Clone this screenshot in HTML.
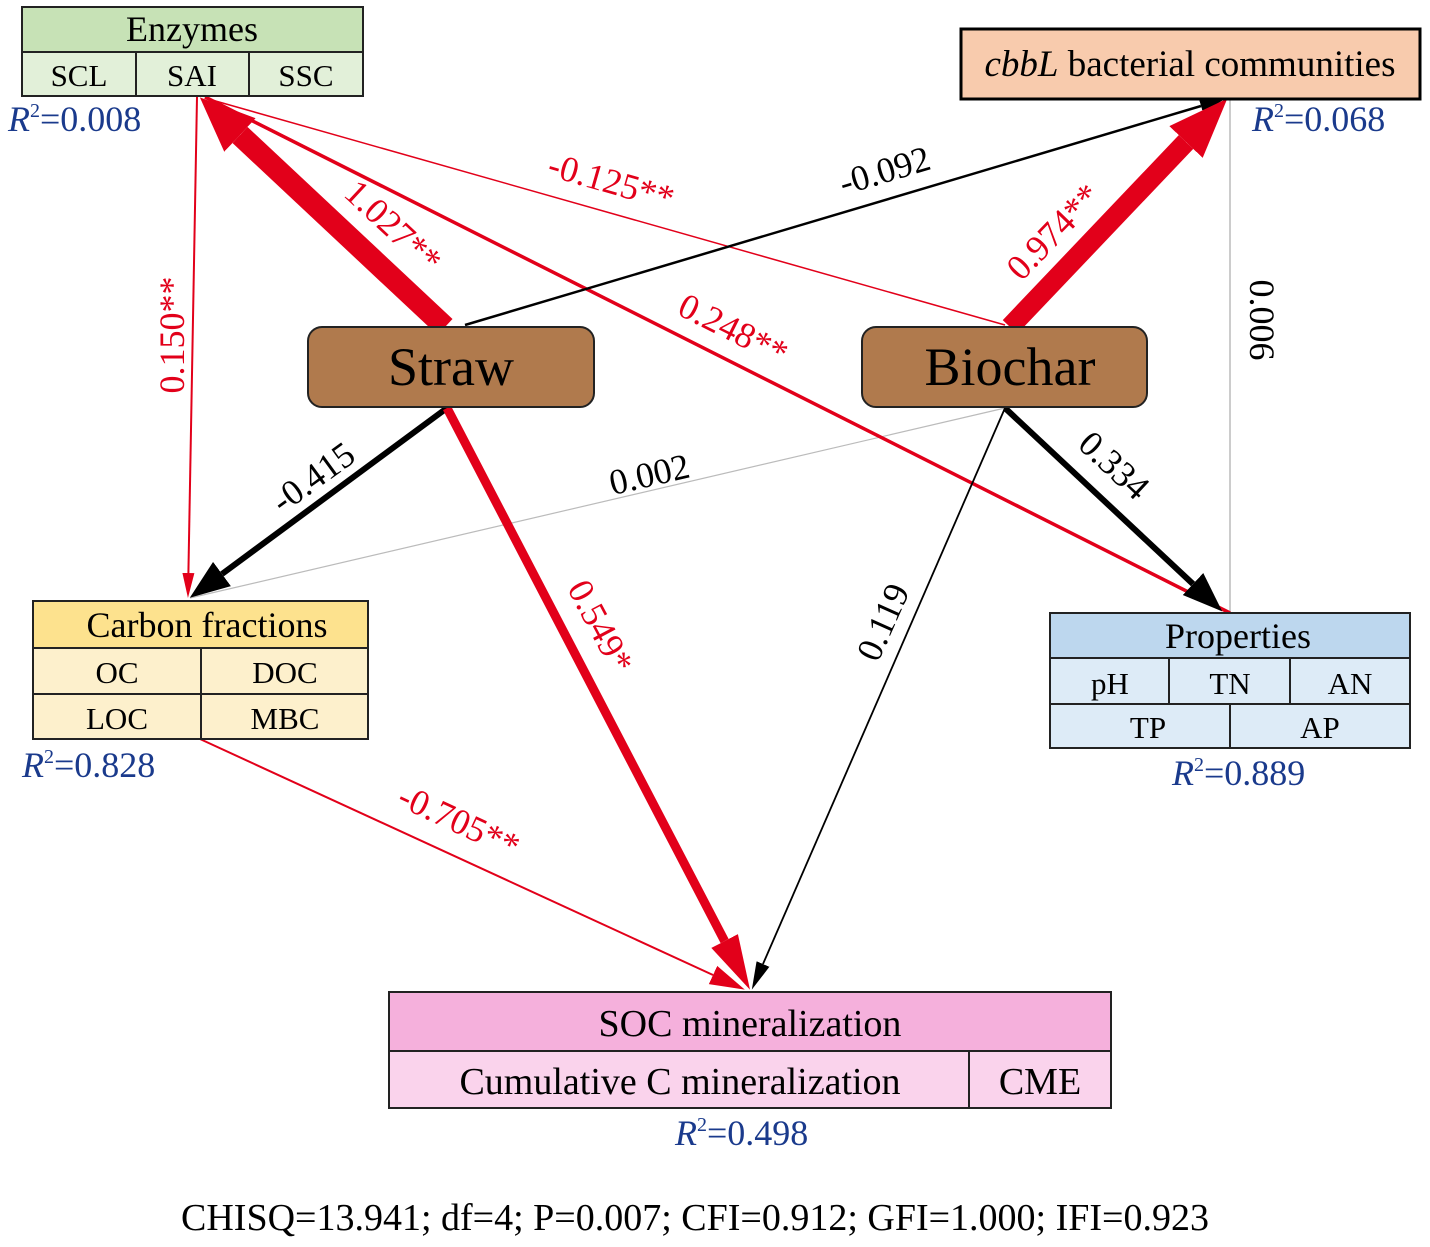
<!DOCTYPE html>
<html><head><meta charset="utf-8"><style>html,body{margin:0;padding:0;background:#fff}svg{display:block}</style></head><body>
<svg width="1430" height="1247" viewBox="0 0 1430 1247" xmlns="http://www.w3.org/2000/svg" font-family="Liberation Serif, serif">
<defs>
<marker id="a1" markerUnits="userSpaceOnUse" markerWidth="60" markerHeight="60" refX="0" refY="30" orient="auto"><path d="M0,7 L55,30 L0,53z" fill="#e2001a"/></marker>
<marker id="a2" markerUnits="userSpaceOnUse" markerWidth="64" markerHeight="60" refX="0" refY="30" orient="auto"><path d="M0,7 L60,30 L0,53z" fill="#e2001a"/></marker>
<marker id="a3" markerUnits="userSpaceOnUse" markerWidth="30" markerHeight="20" refX="0" refY="10" orient="auto"><path d="M0,3 L25,10 L0,17z" fill="#000"/></marker>
<marker id="a6" markerUnits="userSpaceOnUse" markerWidth="30" markerHeight="20" refX="0" refY="10" orient="auto"><path d="M0,4 L25,10 L0,16z" fill="#e2001a"/></marker>
<marker id="a7" markerUnits="userSpaceOnUse" markerWidth="44" markerHeight="40" refX="0" refY="20" orient="auto"><path d="M0,5 L40,20 L0,35z" fill="#000"/></marker>
<marker id="a9" markerUnits="userSpaceOnUse" markerWidth="60" markerHeight="40" refX="0" refY="20" orient="auto"><path d="M0,5 L55,20 L0,35z" fill="#e2001a"/></marker>
<marker id="a10" markerUnits="userSpaceOnUse" markerWidth="30" markerHeight="20" refX="0" refY="10" orient="auto"><path d="M0,3 L28,10 L0,17z" fill="#000"/></marker>
<marker id="a12" markerUnits="userSpaceOnUse" markerWidth="40" markerHeight="30" refX="0" refY="15" orient="auto"><path d="M0,5 L35,15 L0,25z" fill="#e2001a"/></marker>
</defs>

<!-- connectors -->
<line x1="1230" y1="99" x2="1230" y2="613" stroke="#bbb" stroke-width="1.5"/>
<line x1="1005" y1="408" x2="190" y2="598" stroke="#bbb" stroke-width="1.2"/>
<line x1="1005" y1="325" x2="212" y2="100" stroke="#e2001a" stroke-width="1.5"/>
<line x1="1230" y1="613" x2="205" y2="97" stroke="#e2001a" stroke-width="3.5"/>
<line x1="465" y1="325" x2="1201" y2="106" stroke="#000" stroke-width="2.5" marker-end="url(#a3)"/>
<line x1="197" y1="97" x2="188.4" y2="573" stroke="#e2001a" stroke-width="2" marker-end="url(#a6)"/>
<line x1="447" y1="408" x2="222" y2="574" stroke="#000" stroke-width="6" marker-end="url(#a7)"/>
<line x1="1005" y1="408" x2="1193" y2="584" stroke="#000" stroke-width="6" marker-end="url(#a7)"/>
<line x1="447" y1="408" x2="724.6" y2="941" stroke="#e2001a" stroke-width="9" marker-end="url(#a9)"/>
<line x1="1005" y1="408" x2="763" y2="964" stroke="#000" stroke-width="1.8" marker-end="url(#a10)"/>
<line x1="200" y1="739" x2="713" y2="975" stroke="#e2001a" stroke-width="2" marker-end="url(#a12)"/>
<line x1="445" y1="327" x2="240" y2="135" stroke="#e2001a" stroke-width="22" marker-end="url(#a1)"/>
<line x1="1010" y1="327" x2="1186" y2="142" stroke="#e2001a" stroke-width="20" marker-end="url(#a2)"/>

<!-- Enzymes -->
<g stroke="#222" stroke-width="2">
<rect x="22" y="7" width="341" height="45" fill="#c7e2b6"/>
<rect x="22" y="52" width="341" height="44" fill="#e2f0d9"/>
<line x1="136" y1="52" x2="136" y2="96"/><line x1="249" y1="52" x2="249" y2="96"/>
</g>
<g font-size="31" text-anchor="middle" fill="#000">
<text x="192" y="41" font-size="36">Enzymes</text>
<text x="79" y="86">SCL</text><text x="192" y="86">SAI</text><text x="306" y="86">SSC</text>
</g>

<!-- cbbL -->
<rect x="961" y="29" width="459" height="70" fill="#f8cbad" stroke="#000" stroke-width="3"/>
<text x="1190" y="76" font-size="37" text-anchor="middle"><tspan font-style="italic">cbbL</tspan> bacterial communities</text>

<!-- Straw / Biochar -->
<rect x="308" y="327" width="286" height="80" rx="14" fill="#b07a4d" stroke="#222" stroke-width="2"/>
<text x="451" y="385" font-size="54" text-anchor="middle">Straw</text>
<rect x="862" y="327" width="285" height="80" rx="14" fill="#b07a4d" stroke="#222" stroke-width="2"/>
<text x="1010" y="385" font-size="54" text-anchor="middle">Biochar</text>

<!-- Carbon fractions -->
<g stroke="#222" stroke-width="2">
<rect x="33" y="601" width="335" height="47" fill="#fde28e"/>
<rect x="33" y="648" width="335" height="91" fill="#fdf0cc"/>
<line x1="33" y1="694" x2="368" y2="694"/><line x1="201" y1="648" x2="201" y2="739"/>
</g>
<g font-size="31" text-anchor="middle">
<text x="207" y="637" font-size="36">Carbon fractions</text>
<text x="117" y="683">OC</text><text x="285" y="683">DOC</text>
<text x="117" y="729">LOC</text><text x="285" y="729">MBC</text>
</g>

<!-- Properties -->
<g stroke="#222" stroke-width="2">
<rect x="1050" y="613" width="360" height="45" fill="#bdd7ee"/>
<rect x="1050" y="658" width="360" height="90" fill="#ddebf7"/>
<line x1="1050" y1="704" x2="1410" y2="704"/>
<line x1="1169" y1="658" x2="1169" y2="704"/><line x1="1290" y1="658" x2="1290" y2="704"/>
<line x1="1230" y1="704" x2="1230" y2="748"/>
</g>
<g font-size="31" text-anchor="middle">
<text x="1238" y="648" font-size="36">Properties</text>
<text x="1110" y="694">pH</text><text x="1230" y="694">TN</text><text x="1350" y="694">AN</text>
<text x="1148" y="738">TP</text><text x="1320" y="738">AP</text>
</g>

<!-- SOC -->
<g stroke="#222" stroke-width="2">
<rect x="389" y="992" width="722" height="59" fill="#f5b0dc"/>
<rect x="389" y="1051" width="722" height="57" fill="#fad3ec"/>
<line x1="969" y1="1051" x2="969" y2="1108"/>
</g>
<g font-size="38" text-anchor="middle">
<text x="750" y="1036">SOC mineralization</text>
<text x="680" y="1094">Cumulative C mineralization</text>
<text x="1040" y="1094">CME</text>
</g>

<!-- R2 -->
<g font-size="36" fill="#1a3a8c">
<text x="8" y="131"><tspan font-style="italic">R</tspan><tspan font-size="20" dy="-14">2</tspan><tspan dy="14">=0.008</tspan></text>
<text x="1252" y="131"><tspan font-style="italic">R</tspan><tspan font-size="20" dy="-14">2</tspan><tspan dy="14">=0.068</tspan></text>
<text x="22" y="777"><tspan font-style="italic">R</tspan><tspan font-size="20" dy="-14">2</tspan><tspan dy="14">=0.828</tspan></text>
<text x="1172" y="785"><tspan font-style="italic">R</tspan><tspan font-size="20" dy="-14">2</tspan><tspan dy="14">=0.889</tspan></text>
<text x="675" y="1145"><tspan font-style="italic">R</tspan><tspan font-size="20" dy="-14">2</tspan><tspan dy="14">=0.498</tspan></text>
</g>

<!-- path labels -->
<g font-size="36" text-anchor="middle">
<text transform="translate(385,235) rotate(43)" fill="#e2001a">1.027**</text>
<text transform="translate(608,193) rotate(16)" fill="#e2001a">-0.125**</text>
<text transform="translate(888,182) rotate(-16.6)" fill="#000">-0.092</text>
<text transform="translate(1062,240) rotate(-46)" fill="#e2001a">0.974**</text>
<text transform="translate(184,335) rotate(-90)" fill="#e2001a">0.150**</text>
<text transform="translate(728,340) rotate(26.7)" fill="#e2001a">0.248**</text>
<text transform="translate(1250,320) rotate(90)" fill="#000">0.006</text>
<text transform="translate(320,487) rotate(-36)" fill="#000">-0.415</text>
<text transform="translate(652,486) rotate(-13)" fill="#000">0.002</text>
<text transform="translate(1106,474) rotate(43)" fill="#000">0.334</text>
<text transform="translate(590,632) rotate(62)" fill="#e2001a">0.549*</text>
<text transform="translate(894,627) rotate(-66)" fill="#000">0.119</text>
<text transform="translate(454,832) rotate(25)" fill="#e2001a">-0.705**</text>
</g>

<text x="695" y="1230" font-size="38" text-anchor="middle">CHISQ=13.941; df=4; P=0.007; CFI=0.912; GFI=1.000; IFI=0.923</text>
</svg>
</body></html>
